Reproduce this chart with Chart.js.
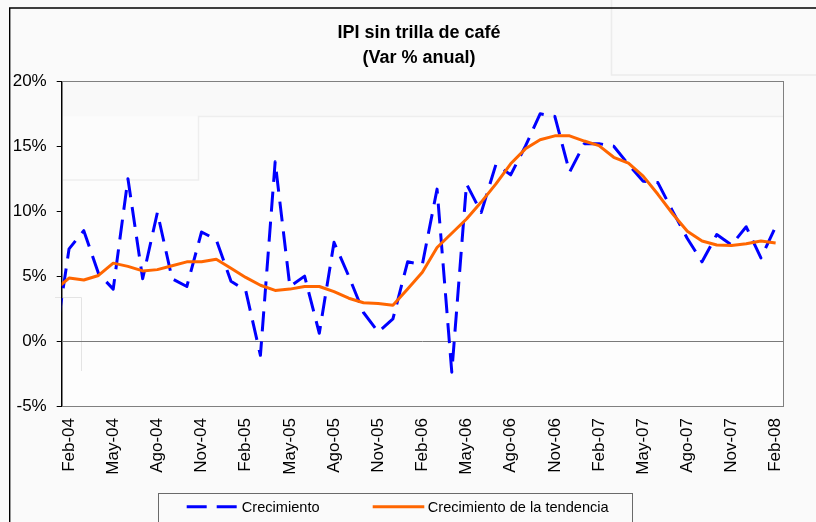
<!DOCTYPE html>
<html><head><meta charset="utf-8">
<script src="https://cdn.jsdelivr.net/npm/chart.js@4"></script>
<style>html,body{margin:0;padding:0;background:#fafafa;}#wrap{width:816px;height:522px;position:relative;}</style>
</head><body><div id="wrap"><canvas id="c" width="816" height="522"></canvas></div>
<script>
const categories = ['Ene-04','Feb-04','Mar-04','Abr-04','May-04','Jun-04','Jul-04','Ago-04','Sep-04','Oct-04','Nov-04','Dic-04',
  'Ene-05','Feb-05','Mar-05','Abr-05','May-05','Jun-05','Jul-05','Ago-05','Sep-05','Oct-05','Nov-05','Dic-05',
  'Ene-06','Feb-06','Mar-06','Abr-06','May-06','Jun-06','Jul-06','Ago-06','Sep-06','Oct-06','Nov-06','Dic-06',
  'Ene-07','Feb-07','Mar-07','Abr-07','May-07','Jun-07','Jul-07','Ago-07','Sep-07','Oct-07','Nov-07','Dic-07',
  'Ene-08','Feb-08'];
const crecimiento = [-0.5, 7.1, 8.5, 5.2, 4.0, 12.5, 4.8, 9.9, 4.8, 4.2, 8.4, 7.8,
  4.6, 3.9, -1.1, 13.8, 4.2, 5.0, 0.6, 7.6, 5.0, 2.2, 0.7, 1.7,
  6.1, 5.9, 11.7, -2.4, 12.1, 9.9, 13.6, 12.8, 15.0, 17.5, 17.3, 13.0,
  15.2, 15.2, 15.0, 13.6, 12.3, 12.2, 10.0, 7.9, 6.1, 8.2, 7.4, 8.8,
  6.4, 8.8];
const tendencia = [3.9, 4.85, 4.7, 5.05, 6.0, 5.75, 5.4, 5.5, 5.8, 6.1, 6.1, 6.3,
  5.6, 4.9, 4.3, 3.9, 4.0, 4.2, 4.2, 3.8, 3.3, 2.95, 2.9, 2.75,
  4.0, 5.3, 7.2, 8.3, 9.4, 10.7, 12.1, 13.65, 14.8, 15.5, 15.8, 15.8,
  15.4, 15.05, 14.15, 13.7, 12.7, 11.3, 9.8, 8.45, 7.7, 7.4, 7.35, 7.5,
  7.7, 7.55];
const tickLabels = ['Feb-04','May-04','Ago-04','Nov-04','Feb-05','May-05','Ago-05','Nov-05','Feb-06','May-06','Ago-06','Nov-06','Feb-07','May-07','Ago-07','Nov-07','Feb-08'];
const yTicks = [-5, 0, 5, 10, 15, 20];
const titleLines = ['IPI sin trilla de café', '(Var % anual)'];
const seriesNames = ['Crecimiento', 'Crecimiento de la tendencia'];
const firstShown = 'Feb-04';

const FONT = "'Liberation Sans', Arial, sans-serif";
Chart.defaults.font.family = FONT;
Chart.defaults.color = '#000';

const backdrop = {
  id: 'backdrop',
  afterLayout(chart) {
    if (chart.titleBlock) { chart.titleBlock.left = 55; }
  },
  beforeDraw(chart) {
    const ctx = chart.ctx, a = chart.chartArea;
    ctx.save();
    ctx.fillStyle = '#fafafa';
    ctx.fillRect(0, 0, chart.width, chart.height);
    ctx.strokeStyle = '#ececec'; ctx.lineWidth = 1.5;
    ctx.beginPath();
    ctx.moveTo(611.5, 0); ctx.lineTo(611.5, 75); ctx.lineTo(816, 75);
    ctx.stroke();
    ctx.fillStyle = '#fdfdfd';
    ctx.fillRect(a.left, a.top, a.right - a.left, a.bottom - a.top);
    ctx.fillStyle = '#f9f9f9';
    ctx.fillRect(a.left, a.top, a.right - a.left, 116.5 - a.top);
    ctx.fillStyle = '#fcfcfc';
    ctx.fillRect(a.left, 116.5, a.right - a.left, 180 - 116.5);
    ctx.strokeStyle = '#eeeeee'; ctx.lineWidth = 1.5;
    ctx.beginPath();
    ctx.moveTo(a.right, 116.5); ctx.lineTo(198.5, 116.5); ctx.lineTo(198.5, 180); ctx.lineTo(a.left, 180);
    ctx.stroke();
    ctx.strokeStyle = '#e4e4e4'; ctx.lineWidth = 1;
    ctx.beginPath();
    ctx.moveTo(55, 297.5); ctx.lineTo(81.5, 297.5); ctx.lineTo(81.5, 371);
    ctx.stroke();
    ctx.strokeStyle = '#000'; ctx.lineWidth = 1.4;
    ctx.beginPath();
    ctx.moveTo(chart.width + 2, 8); ctx.lineTo(9.7, 8); ctx.lineTo(9.7, chart.height + 2);
    ctx.stroke();
    ctx.strokeStyle = '#808080'; ctx.lineWidth = 1;
    ctx.strokeRect(Math.round(a.left) + 0.5, Math.round(a.top) + 0.5, Math.round(a.right - a.left), Math.round(a.bottom - a.top));
    ctx.restore();
  }
};

const boxLegend = {
  id: 'boxLegend',
  afterDraw(chart) {
    const ctx = chart.ctx;
    const ds = chart.data.datasets;
    ctx.save();
    ctx.strokeStyle = '#6a6a6a'; ctx.lineWidth = 1;
    ctx.strokeRect(158.5, 493.5, 474, 60);
    const y = 506.8;
    const items = [{x0: 186.7, x1: 236.7, tx: 241.8}, {x0: 372.7, x1: 424.3, tx: 427.8}];
    ds.forEach((d, i) => {
      const it = items[i];
      ctx.strokeStyle = d.borderColor; ctx.lineWidth = d.borderWidth;
      ctx.setLineDash(d.borderDash || []);
      ctx.lineCap = 'butt';
      ctx.beginPath(); ctx.moveTo(it.x0, y); ctx.lineTo(it.x1, y); ctx.stroke();
      ctx.setLineDash([]);
      ctx.fillStyle = '#000';
      ctx.font = '14.6px ' + FONT;
      ctx.textBaseline = 'alphabetic'; ctx.textAlign = 'left';
      ctx.fillText(d.label, it.tx, 512.3);
    });
    ctx.restore();
  }
};

new Chart(document.getElementById('c'), {
  type: 'line',
  data: {
    labels: categories,
    datasets: [
      { label: seriesNames[0], data: crecimiento, borderColor: '#0000ff', borderWidth: 3, borderDash: [20, 10],
        pointRadius: 0, tension: 0, fill: false, clip: 0, order: 1, borderJoinStyle: 'round' },
      { label: seriesNames[1], data: tendencia, borderColor: '#ff6600', borderWidth: 3,
        pointRadius: 0, tension: 0, fill: false, clip: 0, order: 0, borderJoinStyle: 'round' }
    ]
  },
  options: {
    responsive: false, animation: false, devicePixelRatio: 1,
    layout: { padding: { left: 0, right: 33, top: 0, bottom: 0 } },
    plugins: {
      legend: { display: false },
      tooltip: { enabled: false },
      title: { display: true, text: titleLines, color: '#000',
        font: { size: 18, weight: 'bold', lineHeight: 24.7 / 18 },
        padding: { top: 20.75, bottom: 11.15 } }
    },
    scales: {
      x: {
        type: 'category', min: firstShown, offset: true,
        grid: { display: false, drawTicks: false, tickLength: 0 },
        border: { display: false },
        ticks: { autoSkip: false, maxRotation: 90, minRotation: 90, padding: 12, color: '#000',
          font: { size: 17 },
          callback: function (v) { const l = this.getLabelForValue(v); return tickLabels.includes(l) ? l : ''; } },
        afterFit: s => { s.height = 116; s.paddingLeft = 0; s.paddingRight = 0; }
      },
      y: {
        min: -5, max: 20,
        afterBuildTicks: s => { s.ticks = yTicks.map(v => ({ value: v })); },
        ticks: { callback: v => v + '%', color: '#000', font: { size: 17 }, padding: 10 },
        grid: { drawOnChartArea: true, tickLength: 5, tickColor: '#000',
          color: c => (c.tick && c.tick.value === 0) ? '#7a7a7a' : 'rgba(0,0,0,0)' },
        border: { display: true, color: '#000', width: 1 },
        afterFit: s => { s.width = 61.7; s.paddingTop = 0; s.paddingBottom = 0; }
      }
    }
  },
  plugins: [backdrop, boxLegend]
});
</script></body></html>
